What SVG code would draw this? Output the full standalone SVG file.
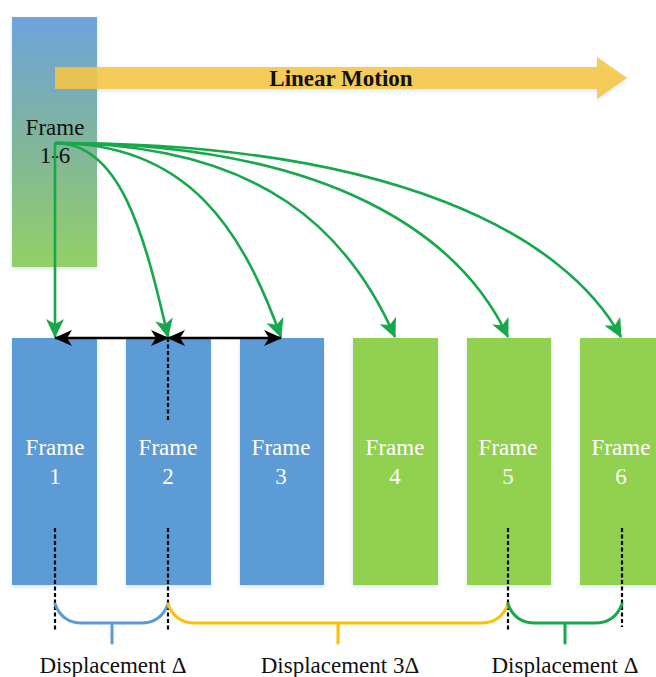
<svg xmlns="http://www.w3.org/2000/svg" width="656" height="677" viewBox="0 0 656 677">
  <defs>
    <linearGradient id="stackFill" x1="0" y1="0" x2="0" y2="1">
      <stop offset="0" stop-color="#6ea3dc"/>
      <stop offset="0.5" stop-color="#80b59c"/>
      <stop offset="1" stop-color="#93d067"/>
    </linearGradient>
    <filter id="softShadow" x="-20%" y="-20%" width="140%" height="140%">
      <feDropShadow dx="0" dy="2" stdDeviation="2" flood-color="#5b9bd5" flood-opacity="0.25"/>
    </filter>
    <marker id="greenHead" viewBox="0 0 19 18" refX="18" refY="9" markerWidth="19" markerHeight="18" markerUnits="userSpaceOnUse" orient="auto">
      <path d="M0,0 L19,9 L0,18 L5,9 Z" fill="#16a84a"/>
    </marker>
    <marker id="blackHead" viewBox="0 0 18 16" refX="17" refY="8" markerWidth="18" markerHeight="16" markerUnits="userSpaceOnUse" orient="auto-start-reverse">
      <path d="M0,0 L18,8 L0,16 L5,8 Z" fill="#000"/>
    </marker>
    <style>
      .frame-blue { fill: #5b9bd5; filter: url(#softShadow); }
      .frame-green { fill: #92d050; filter: url(#softShadow); }
      .flabel { font-family: "Liberation Serif", "Times New Roman", serif; font-size: 23px; fill: #ffffff; text-anchor: middle; }
      .dlabel { font-family: "Liberation Serif", "Times New Roman", serif; font-size: 23px; fill: #111111; text-anchor: middle; }
      .link { fill: none; stroke: #16a84a; stroke-width: 2.6; marker-end: url(#greenHead); }
      .span { fill: none; stroke: #000; stroke-width: 2.6; marker-start: url(#blackHead); marker-end: url(#blackHead); }
      .guide { stroke: #000; stroke-width: 2.2; stroke-dasharray: 4 2.5; }
      .brace { fill: none; stroke-width: 3; stroke-linecap: round; stroke-linejoin: round; }
    </style>
  </defs>

  <!-- combined frame stack -->
  <g id="frame-stack">
    <rect x="12" y="17" width="85" height="250" fill="url(#stackFill)" filter="url(#softShadow)"/>
    <text x="55" y="135" class="dlabel">Frame</text>
    <text x="55" y="163" class="dlabel">1-6</text>
  </g>

  <!-- motion arrow -->
  <g id="linear-motion">
    <path d="M55,67 H597 V57 L627,78 L597,99 V89 H55 Z" fill="#f6c63e" fill-opacity="0.88" filter="url(#softShadow)"/>
    <text x="341" y="86" font-family="'Liberation Serif', 'Times New Roman', serif" font-size="23" font-weight="bold" fill="#111" text-anchor="middle">Linear Motion</text>
  </g>

  <!-- individual frames -->
  <g id="frame-1">
    <rect x="12" y="338" width="85" height="247" class="frame-blue"/>
    <text x="55" y="455" class="flabel">Frame</text>
    <text x="55" y="484" class="flabel">1</text>
  </g>
  <g id="frame-2">
    <rect x="126" y="338" width="85" height="247" class="frame-blue"/>
    <text x="168" y="455" class="flabel">Frame</text>
    <text x="168" y="484" class="flabel">2</text>
  </g>
  <g id="frame-3">
    <rect x="240" y="338" width="84" height="247" class="frame-blue"/>
    <text x="281" y="455" class="flabel">Frame</text>
    <text x="281" y="484" class="flabel">3</text>
  </g>
  <g id="frame-4">
    <rect x="353" y="338" width="85" height="247" class="frame-green"/>
    <text x="395" y="455" class="flabel">Frame</text>
    <text x="395" y="484" class="flabel">4</text>
  </g>
  <g id="frame-5">
    <rect x="467" y="338" width="84" height="247" class="frame-green"/>
    <text x="508" y="455" class="flabel">Frame</text>
    <text x="508" y="484" class="flabel">5</text>
  </g>
  <g id="frame-6">
    <rect x="580" y="338" width="85" height="247" class="frame-green"/>
    <text x="621" y="455" class="flabel">Frame</text>
    <text x="621" y="484" class="flabel">6</text>
  </g>

  <!-- connectors -->
  <g id="connectors">
    <path class="link" d="M55,143 V337"/>
    <path class="link" d="M55,143 C120,143 144,232 168,337"/>
    <path class="link" d="M55,143 C190,143 243,232 281,337"/>
    <path class="link" d="M55,143 C265,143 350,235 395,337"/>
    <path class="link" d="M55,143 C330,143 460,235 508,337"/>
    <path class="link" d="M55,143 C395,143 565,235 621,337"/>

    <path class="span" d="M55,338 H168"/>
    <path class="span" d="M168,338 H281"/>

    <line class="guide" x1="168" y1="338" x2="168" y2="420"/>
    <line class="guide" x1="55" y1="528" x2="55" y2="630"/>
    <line class="guide" x1="168" y1="528" x2="168" y2="630"/>
    <line class="guide" x1="508" y1="528" x2="508" y2="630"/>
    <line class="guide" x1="622" y1="528" x2="622" y2="627"/>

    <path class="brace" stroke="#5b9bd5" d="M55,604 Q62,623 82,623 H141 Q161,623 168,604 M112,623 V643"/>
    <path class="brace" stroke="#ffc000" d="M168,604 Q175,623 195,623 H481 Q501,623 508,604 M338,623 V643"/>
    <path class="brace" stroke="#16a84a" d="M508,604 Q515,623 535,623 H595 Q615,623 622,604 M565,623 V643"/>
  </g>

  <!-- displacement labels -->
  <g id="labels">
    <text x="113" y="673" class="dlabel">Displacement Δ</text>
    <text x="340" y="673" class="dlabel">Displacement 3Δ</text>
    <text x="565" y="673" class="dlabel">Displacement Δ</text>
  </g>
</svg>
